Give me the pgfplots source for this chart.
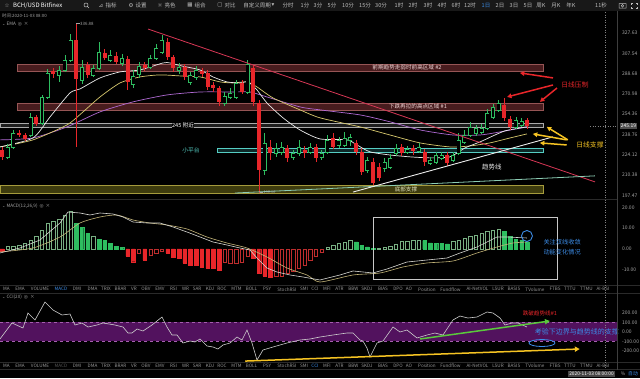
\documentclass[border=0pt]{standalone}
\usepackage{pgfplots}
\pgfplotsset{compat=1.18}
\usetikzlibrary{arrows.meta}
\usepackage{fontspec}
\setmainfont{Noto Sans CJK SC}
\newfontfamily\sym{DejaVu Sans}
\newcommand\fs[1]{\fontsize{#1pt}{#1pt}\selectfont}
\definecolor{upc}{RGB}{46,189,96}
\definecolor{dnc}{RGB}{232,38,42}
\definecolor{lab}{RGB}{165,165,165}
\definecolor{sepc}{RGB}{42,42,42}
\definecolor{tbc}{RGB}{24,24,24}
\definecolor{tbt}{RGB}{190,190,190}
\definecolor{zfill}{RGB}{72,28,30}
\definecolor{zedge}{RGB}{150,85,85}
\definecolor{ztext}{RGB}{240,215,215}
\definecolor{gfill}{RGB}{30,30,30}
\definecolor{gedge}{RGB}{170,170,170}
\definecolor{cyanc}{RGB}{85,205,195}
\definecolor{tfill}{RGB}{14,40,40}
\definecolor{ofill}{RGB}{62,60,14}
\definecolor{oedge}{RGB}{165,155,60}
\definecolor{otext}{RGB}{230,230,195}
\definecolor{redtl}{RGB}{215,55,85}
\definecolor{ltl}{RGB}{140,205,180}
\definecolor{emaw}{RGB}{235,235,235}
\definecolor{emay}{RGB}{215,200,110}
\definecolor{emap}{RGB}{175,105,210}
\definecolor{yarr}{RGB}{245,195,35}
\definecolor{bluec}{RGB}{60,140,230}
\definecolor{hgc}{RGB}{120,175,130}
\definecolor{hrc}{RGB}{190,45,45}
\definecolor{difc}{RGB}{215,215,210}
\definecolor{deac}{RGB}{195,180,120}
\definecolor{ccic}{RGB}{205,205,205}
\definecolor{ccib}{RGB}{82,18,94}
\definecolor{ccie}{RGB}{165,95,175}
\definecolor{garr}{RGB}{90,200,60}
\definecolor{boxc}{RGB}{200,200,200}
\definecolor{axlc}{RGB}{62,62,62}
\definecolor{crossc}{RGB}{130,130,130}
\definecolor{pricebg}{RGB}{78,78,78}
\definecolor{indc}{RGB}{150,150,150}
\definecolor{inddim}{RGB}{85,85,85}
\definecolor{datebg}{RGB}{70,70,70}

% up candle (hollow): index, open, high, low, close
\newcommand\U[5]{%
 \addplot[upc,line width=0.6pt] coordinates {(#1,#4) (#1,#3)};
 \addplot[upc,line width=4pt] coordinates {(#1,#2) (#1,#5)};
 \addplot[black,line width=2.8pt] coordinates {(#1,#2) (#1,#5)};
 \addplot[upc,only marks,mark=-,mark size=2pt,mark options={line width=0.6pt}] coordinates {(#1,#2) (#1,#5)};}
% down candle (filled)
\newcommand\D[5]{%
 \addplot[dnc,line width=0.6pt] coordinates {(#1,#4) (#1,#3)};
 \addplot[dnc,line width=4pt] coordinates {(#1,#2) (#1,#5)};}

\pgfplotsset{panel/.style={scale only axis, width=617pt, xmin=-0.35, xmax=107.71,
  anchor=north west, axis x line=none, axis y line*=right, y axis line style={draw=none},
  major tick length=0pt, yticklabel style={font=\fs{5}, text=lab, xshift=1.5pt},
  clip mode=individual}}

\def\indlist{6.5/MA,20/EMA,40/VOLUME,77/DMI,92.5/DMA,106/TRIX,120.5/BRAR,134/VR,146/OBV,160/EMV,173.5/RSI,185.5/WR,197/SAR,210/KDJ,222/ROC,236.5/MTM,251.5/BOLL,267/PSY,287/StochRSI,304/SMI,327/MFI,339.5/ATR,353.5/BBW,367/SKDJ,383/BIAS,398/DPO,409/AO,427/Position,450.5/Fundflow,477.5/AI-NetVOL,498/LSUR,514/BASIS,535/TVolume,555/FTBS,570/TTTU,586.5/TTMU,603/AI-BSI}

\begin{document}
\begin{tikzpicture}
\path[use as bounding box] (0pt,0pt) rectangle (640pt,-378pt);
\fill[black] (0pt,0pt) rectangle (640pt,-378pt);
\fill[tbc] (0pt,0pt) rectangle (640pt,-11pt);

%================ PRICE PANEL ================
\begin{axis}[panel, at={(0pt,-12pt)}, height=187pt,
  ymode=log, ymin=195.35, ymax=349.78,
  ytick={197.47,210.38,224.12,238.76,254.36,270.98,288.68,307.54,327.63},
  yticklabels={197.47,210.38,224.12,238.76,254.36,270.98,288.68,307.54,327.63}]
% zones
\filldraw[fill=zfill, draw=zedge, line width=0.6pt] (axis cs:2.63,291.1) rectangle (axis cs:94.75,297.4);
\filldraw[fill=zfill, draw=zedge, line width=0.6pt] (axis cs:2.63,257.8) rectangle (axis cs:94.75,263.4);
\filldraw[fill=gfill, draw=gedge, line width=0.5pt] (axis cs:-0.35,244.5) rectangle (axis cs:94.75,247.6);
\filldraw[fill=tfill, draw=cyanc, line width=0.6pt] (axis cs:37.65,226.2) rectangle (axis cs:94.75,229.0);
\filldraw[fill=ofill, draw=oedge, line width=0.6pt] (axis cs:-0.35,199.0) rectangle (axis cs:94.75,204.0);
% EMA lines
\addplot[emap, line width=0.7pt, smooth, tension=0.4] coordinates {(-0.35,234.8) (5.43,236.2) (11.38,244.5) (17.16,256.2) (22.94,264.3) (28.90,270.1) (34.68,272.6) (40.46,272.6) (43.43,272.6) (46.41,268.4) (52.19,260.2) (55.69,257.8) (62.70,253.8) (67.95,248.4) (73.20,242.2) (78.98,238.4) (83.71,238.4) (87.22,240.7) (91.94,244.5)};
\addplot[emay, line width=0.7pt, smooth, tension=0.4] coordinates {(-0.35,229.7) (5.43,234.8) (11.38,246.0) (14.19,256.2) (17.16,268.4) (20.67,280.4) (24.17,285.7) (27.67,287.5) (31.17,286.6) (34.68,285.7) (38.18,281.3) (40.46,280.4) (42.91,281.3) (44.66,276.9) (47.46,267.6) (52.19,257.8) (55.69,251.5) (62.70,244.5) (67.95,238.4) (73.20,232.6) (78.46,229.7) (81.96,230.4) (85.46,232.6) (88.97,236.2) (91.94,239.2)};
\addplot[emaw, line width=0.7pt, smooth, tension=0.4] coordinates {(-0.35,229.7) (5.43,236.2) (8.41,252.2) (11.91,271.8) (13.66,275.2) (17.16,284.8) (20.67,290.2) (24.17,292.0) (28.20,298.4) (29.42,298.4) (31.52,295.6) (34.68,292.0) (36.95,285.7) (39.40,281.3) (41.68,280.4) (43.08,281.3) (44.66,274.3) (46.41,263.4) (49.21,251.5) (52.19,242.2) (55.69,235.5) (60.42,234.8) (62.17,231.1) (64.45,226.2) (67.95,224.0) (71.45,222.7) (74.96,222.0) (78.46,222.7) (81.09,229.0) (83.71,233.3) (86.34,238.4) (88.09,241.5) (89.84,243.0) (91.94,244.5)};
% candles
\D{0}{227.6}{229.7}{220.6}{222.7}
\U{1}{222.7}{231.8}{221.3}{229.7}
\U{2}{229.7}{242.2}{228.3}{239.9}
\D{3}{239.9}{242.2}{237.0}{238.4}
\D{4}{238.4}{239.9}{234.0}{235.5}
\U{5}{238.4}{255.4}{237.0}{252.2}
\D{6}{252.2}{253.8}{245.3}{246.8}
\U{7}{247.6}{270.1}{246.0}{268.4}
\U{8}{268.4}{292.9}{266.8}{289.3}
\D{9}{291.1}{293.8}{284.8}{288.4}
\U{10}{287.5}{295.6}{281.3}{292.0}
\U{11}{292.0}{305.9}{290.2}{301.2}
\U{12}{301.2}{326.6}{299.3}{320.6}
\D{13}{320.6}{336.9}{229.7}{283.9}
\U{14}{283.0}{301.2}{279.5}{294.7}
\D{15}{296.5}{299.3}{284.8}{287.5}
\U{16}{287.5}{296.5}{285.7}{293.8}
\U{17}{293.8}{318.6}{292.0}{308.8}
\D{18}{307.8}{311.7}{301.2}{303.1}
\U{19}{301.2}{310.7}{299.3}{305.9}
\D{20}{305.0}{308.8}{297.5}{299.3}
\U{21}{298.4}{306.9}{295.6}{303.1}
\D{22}{302.1}{305.0}{274.3}{281.3}
\U{23}{279.5}{292.0}{276.0}{286.6}
\U{24}{288.4}{299.3}{284.8}{295.6}
\D{25}{296.5}{299.3}{291.1}{293.8}
\U{26}{294.7}{305.9}{292.9}{303.1}
\U{27}{303.1}{316.6}{301.2}{312.7}
\U{28}{308.8}{325.6}{306.9}{320.6}
\D{29}{318.6}{322.6}{301.2}{304.0}
\D{30}{304.0}{305.9}{290.2}{293.8}
\U{31}{292.0}{298.4}{288.4}{294.7}
\D{32}{294.7}{297.5}{283.0}{285.7}
\U{33}{281.3}{290.2}{278.6}{287.5}
\U{34}{285.7}{295.6}{283.0}{292.0}
\D{35}{291.1}{293.8}{285.7}{288.4}
\D{36}{289.3}{292.0}{274.3}{276.9}
\D{37}{278.6}{281.3}{272.6}{276.0}
\D{38}{276.0}{277.8}{261.0}{264.3}
\U{39}{263.4}{272.6}{261.0}{269.3}
\U{40}{268.4}{276.0}{266.8}{271.8}
\U{41}{268.4}{283.0}{266.8}{280.4}
\D{42}{280.4}{283.0}{270.9}{272.6}
\U{43}{272.6}{301.2}{270.9}{297.5}
\D{44}{293.8}{296.5}{261.0}{264.3}
\D{45}{263.4}{265.9}{199.0}{213.8}
\U{46}{213.8}{239.9}{210.5}{232.6}
\D{47}{229.7}{234.8}{220.6}{225.5}
\U{48}{225.5}{232.6}{222.7}{229.0}
\U{49}{226.2}{233.3}{224.0}{229.7}
\D{50}{229.0}{231.1}{219.2}{222.0}
\U{51}{222.7}{227.6}{220.6}{225.5}
\U{52}{225.5}{234.8}{223.3}{229.7}
\D{53}{227.6}{230.4}{222.0}{225.5}
\U{54}{226.2}{232.6}{224.7}{229.7}
\D{55}{229.7}{231.8}{219.2}{222.0}
\U{56}{222.7}{227.6}{220.6}{225.5}
\U{57}{226.2}{238.4}{224.7}{234.8}
\D{58}{236.2}{239.9}{228.3}{229.7}
\U{59}{231.1}{237.0}{229.0}{234.8}
\U{60}{231.1}{240.7}{229.7}{236.2}
\U{61}{234.8}{239.2}{230.4}{237.0}
\D{62}{232.6}{234.8}{224.0}{226.2}
\D{63}{226.2}{229.0}{210.5}{212.5}
\U{64}{213.8}{222.7}{211.8}{220.6}
\D{65}{219.2}{222.0}{204.0}{205.3}
\D{66}{215.8}{218.5}{206.6}{208.6}
\U{67}{215.2}{222.0}{212.5}{219.2}
\U{68}{215.8}{224.7}{214.5}{222.0}
\U{69}{225.5}{231.8}{223.3}{229.0}
\D{70}{229.7}{231.8}{223.3}{225.5}
\U{71}{226.2}{230.4}{224.7}{228.3}
\D{72}{229.0}{231.1}{224.0}{226.9}
\U{73}{226.9}{232.6}{225.5}{229.7}
\D{74}{226.2}{228.3}{216.5}{219.2}
\U{75}{218.5}{222.7}{217.2}{220.6}
\U{76}{219.2}{226.2}{217.9}{224.0}
\U{77}{222.0}{226.2}{220.6}{224.0}
\D{78}{224.0}{226.2}{216.5}{218.5}
\U{79}{220.6}{226.2}{219.2}{224.0}
\U{80}{225.5}{239.9}{224.0}{234.8}
\U{81}{233.3}{242.2}{231.8}{238.4}
\U{82}{238.4}{248.4}{237.0}{244.5}
\U{83}{239.9}{246.0}{237.7}{243.7}
\U{84}{240.7}{246.8}{239.2}{243.7}
\U{85}{243.7}{258.6}{242.2}{255.4}
\U{86}{252.2}{262.6}{250.7}{260.2}
\U{87}{257.8}{265.9}{256.2}{263.4}
\D{88}{261.8}{267.6}{249.1}{251.5}
\D{89}{250.7}{253.0}{242.2}{244.5}
\U{90}{244.5}{252.2}{243.0}{249.9}
\U{91}{246.0}{251.5}{244.5}{249.1}
\D{92}{249.9}{251.5}{243.0}{245.19}
% trend lines
\draw[redtl, line width=0.8pt] (axis cs:25.57,331.7) -- (axis cs:103.85,206.0);
\draw[ltl, line width=0.8pt] (axis cs:40.8,199.0) -- (axis cs:103.85,209.9);
\draw[emaw, line width=0.9pt] (axis cs:61.47,199.6) -- (axis cs:96.5,237.0);
% zone labels
\node[font=\fs{5.6}, text=ztext] at (axis cs:70.93,294.2) {前期趋势走弱时前高区域 \#2};
\node[font=\fs{5.6}, text=ztext] at (axis cs:72.85,260.6) {下跌再拉的高点区域 \#1};
\node[font=\fs{5.6}, text=white, fill=black, inner sep=0.6pt] at (axis cs:31.7,246.0) {245 附近};
\node[font=\fs{5.8}, text=cyanc] at (axis cs:33.1,227.6) {小平台};
\node[font=\fs{5.6}, text=otext] at (axis cs:70.75,201.5) {底部支撑};
\node[font=\fs{6.5}, text=emaw] at (axis cs:85.8,215.8) {趋势线};
% arrows
\draw[dnc, line width=1.5pt, -{Triangle[length=4.5pt,width=4.5pt]}] (axis cs:96.5,284.8) -- (axis cs:90.7,289.3);
\draw[dnc, line width=1.5pt, -{Triangle[length=4.5pt,width=4.5pt]}] (axis cs:96.5,278.6) -- (axis cs:88.44,268.4);
\draw[dnc, line width=1.5pt, -{Triangle[length=4.5pt,width=4.5pt]}] (axis cs:97.2,276.0) -- (axis cs:94.2,264.3);
\draw[yarr, line width=1.5pt, -{Triangle[length=4.5pt,width=4.5pt]}] (axis cs:99.1,234.8) -- (axis cs:95.4,244.5);
\draw[yarr, line width=1.5pt, -{Triangle[length=4.5pt,width=4.5pt]}] (axis cs:98.9,234.8) -- (axis cs:92.96,239.2);
\draw[yarr, line width=1.5pt, -{Triangle[length=4.5pt,width=4.5pt]}] (axis cs:98.9,231.1) -- (axis cs:94.2,232.6);
\node[font=\fs{6.8}, text=dnc] at (axis cs:100.35,278.6) {日线压制};
\node[font=\fs{6.8}, text=yarr] at (axis cs:102.98,231.1) {日线支撑};
\end{axis}

%================ MACD PANEL ================
\begin{axis}[panel, at={(0pt,-199pt)}, height=86pt, ymin=-17.27, ymax=23.98,
  ytick={-10,0,10,20}, yticklabels={-10.00,0.00,10.00,20.00}]
\addplot[ybar, bar width=3.6pt, bar shift=0pt, fill=upc, draw=upc] coordinates {(13,12.3) (14,10.4) (15,7.5) (17,4.6) (18,4.0) (19,2.7) (20,1.4) (21,0.8) (62,3.4) (63,1.9) (64,1.0) (65,0.3) (74,4.0) (75,2.9) (76,2.7) (77,2.7) (78,2.4) (88,8.3) (89,5.9) (90,4.6) (91,4.3) (92,3.5)};
\addplot[ybar, bar width=3.4pt, bar shift=0pt, fill=black, draw=hgc, line width=0.5pt] coordinates {(1,1.1) (2,1.4) (3,1.9) (4,2.7) (5,4.3) (6,5.9) (7,9.1) (8,12.3) (9,13.1) (10,14.2) (11,16.3) (12,17.9) (16,5.9) (57,1.0) (58,1.9) (59,2.7) (60,3.4) (61,4.3) (66,0.5) (67,0.8) (68,1.1) (69,2.4) (70,3.5) (71,3.5) (72,4.0) (73,4.3) (79,3.5) (80,4.3) (81,5.1) (82,5.9) (83,6.7) (84,7.5) (85,8.3) (86,9.1) (87,9.6)};
\addplot[ybar, bar width=3.6pt, bar shift=0pt, fill=dnc, draw=dnc] coordinates {(0,-1.0) (22,-3.4) (23,-6.1) (25,-5.3) (29,-1.8) (30,-3.8) (31,-4.3) (32,-6.7) (33,-7.7) (34,-7.7) (35,-8.6) (36,-9.1) (37,-9.1) (38,-10.1) (44,-4.5) (45,-11.5) (46,-13.0) (47,-13.4)};
\addplot[ybar, bar width=3.4pt, bar shift=0pt, fill=black, draw=hrc, line width=0.5pt] coordinates {(24,-2.1) (26,-2.9) (27,-2.1) (28,-1.3) (39,-6.2) (40,-6.7) (41,-6.7) (42,-6.2) (43,-3.7) (48,-13.0) (49,-12.9) (50,-11.5) (51,-10.9) (52,-9.3) (53,-7.7) (54,-5.3) (55,-3.7) (56,-1.5)};
\addplot[deac, line width=0.6pt, smooth, tension=0.4] coordinates {(-0.35,-1.44) (5.43,0.48) (10.16,5.76) (13.66,12.47) (17.16,15.35) (20.14,16.31) (22.94,13.91) (25.92,12.47) (28.90,11.51) (32.40,9.59) (35.90,5.76) (39.40,2.88) (42.91,0.48) (46.41,-3.84) (49.91,-9.11) (53.42,-12.47) (55.69,-15.83) (61.47,-12.47) (66.20,-11.51) (70.23,-8.63) (74.43,-6.71) (78.98,-5.76) (83.19,-1.92) (86.69,0.96) (89.49,2.88) (91.94,3.36)};
\addplot[difc, line width=0.6pt] coordinates {(-0.35,-1.92) (3.15,0.48) (6.65,4.32) (10.16,12.47) (11.56,17.75) (13.66,17.27) (15.41,16.31) (17.16,17.27) (19.44,16.79) (21.19,15.35) (22.94,12.95) (25.39,12.47) (27.67,12.47) (29.95,10.55) (32.40,8.15) (34.68,5.76) (36.95,3.36) (39.40,1.92) (41.68,0.48) (43.43,-0.48) (44.66,-4.32) (46.41,-9.11) (48.16,-11.03) (50.44,-12.47) (52.71,-13.43) (55.69,-14.87) (59.19,-12.47) (61.47,-10.55) (63.22,-11.03) (64.97,-11.51) (67.43,-9.59) (70.93,-6.24) (74.43,-5.28) (77.93,-4.32) (80.21,-1.92) (83.19,0.96) (86.69,5.76) (88.44,5.76) (91.94,5.28)};
\draw[boxc, line width=0.6pt] (axis cs:64.97,15.35) rectangle (axis cs:97.2,-14.39);
\draw[bluec, line width=0.9pt] (axis cs:91.94,6.24) circle[radius=5.5pt];
\node[font=\fs{6.2}, text=bluec] at (axis cs:98.1,3.36) {关注双线收敛};
\node[font=\fs{6.2}, text=bluec] at (axis cs:98.1,-1.44) {动能变化情况};
\end{axis}

%================ CCI PANEL ================
\begin{axis}[panel, at={(0pt,-293pt)}, height=69pt, ymin=-314.8, ymax=405.6,
  ytick={-200,-100,0,100,200}, yticklabels={-200.00,-100.00,0.00,100.00,200.00},
  axis x line*=bottom, x axis line style={draw=none},
  xtick={4,10,16,22,28,34,40,46,52,58,64,70,76,82,88,94},
  xticklabels={7月25,7月31,8月6,8月12,8月18,8月24,8月30,9月5,9月11,9月17,9月23,9月29,10月5,10月11,10月17,10月23},
  xticklabel style={font=\fs{4.8}, text=lab, anchor=center, yshift=-12pt}]
\fill[ccib] (axis cs:-0.35,-100) rectangle (axis cs:107.71,100);
\draw[ccie, dashed, line width=0.5pt] (axis cs:-0.35,100) -- (axis cs:107.71,100);
\draw[ccie, dashed, line width=0.5pt] (axis cs:-0.35,-100) -- (axis cs:107.71,-100);
\addplot[ccic, line width=0.6pt] coordinates {(-0.35,-74.6) (1.75,92.4) (3.68,40.2) (4.55,196.8) (5.78,123.7) (7.53,311.6) (8.93,228.1) (10.51,175.9) (11.91,186.4) (12.78,71.5) (14.01,92.4) (15.06,50.6) (16.64,71.5) (17.69,92.4) (19.79,71.5) (21.19,50.6) (22.07,-12.0) (22.77,-12.0) (23.64,29.8) (24.69,8.9) (26.27,71.5) (28.02,155.0) (28.90,50.6) (29.77,-32.9) (30.65,-32.9) (31.70,-116.4) (32.92,-95.5) (33.80,-105.9) (34.68,-74.6) (35.90,-147.7) (36.95,-158.1) (37.83,-179.0) (38.70,-137.3) (39.93,-116.4) (41.16,-53.8) (42.03,-85.1) (42.91,19.3) (43.78,-116.4) (44.66,-293.9) (45.71,-189.5) (47.46,-158.1) (49.91,-116.4) (52.19,-85.1) (53.94,-74.6) (55.69,-53.8) (57.97,-32.9) (60.42,-12.0) (61.47,-12.0) (62.70,-85.1) (63.22,-95.5) (63.92,-168.6) (64.45,-262.6) (65.67,-116.4) (66.73,-95.5) (68.48,50.6) (69.70,-1.6) (70.93,19.3) (72.68,-64.2) (74.43,-32.9) (75.83,-12.0) (77.23,-32.9) (78.98,123.7) (80.21,165.5) (81.61,144.6) (83.19,155.0) (84.94,207.2) (85.99,196.8) (87.22,144.6) (88.09,71.5) (89.32,92.4) (90.37,92.4) (91.94,50.6)};
\draw[garr, line width=1.5pt, -{Triangle[length=5pt,width=5pt]}] (axis cs:73.2,-74.6) -- (axis cs:95.97,113.3);
\draw[yarr, line width=1.5pt, -{Triangle[length=5pt,width=5pt]}] (axis cs:42.6,-305) -- (axis cs:101.2,-179);
\draw[bluec, line width=0.8pt] (axis cs:94.57,-116.4) ellipse[x radius=13pt, y radius=3.5pt];
\node[font=\fs{5.6}, text=dnc] at (axis cs:94.2,196.8) {跌破趋势线\#1};
\node[font=\fs{7}, text=bluec] at (axis cs:100.7,0) {考验下边界与趋势线的支撑};
\end{axis}

%================ FRAME, TOOLBAR, LABELS ================
\begin{scope}[x=1pt,y=-1pt]
\draw[sepc, line width=0.5pt] (0,199) -- (617,199);
\draw[sepc, line width=0.5pt] (0,285.5) -- (640,285.5);
\draw[sepc, line width=0.5pt] (0,293) -- (640,293);
\draw[sepc, line width=0.5pt] (0,362) -- (640,362);
\draw[sepc, line width=0.5pt] (0,369.5) -- (640,369.5);
\draw[axlc, line width=0.5pt] (617,11) -- (617,369.5);
% crosshair
\draw[crossc, dotted, line width=0.5pt] (605,12) -- (605,369);
\draw[crossc, dotted, line width=0.5pt] (590,126) -- (617,126);
\node[fill=pricebg, text=white, font=\fs{5}, inner sep=1pt] at (628.5,126) {245.19};
% toolbar
\begin{scope}[every node/.style={font=\fs{5.5}, text=tbt, inner sep=0pt}]
\node at (7,5.5) {\sym ☆};
\node[anchor=west, text=white, font=\fs{6}] at (13,5.5) {BCH/USD Bitfinex};
\draw[tbt, line width=0.5pt] (86,5) circle[radius=2] (87.5,6.5) -- (89,8);
\node at (101,5.5) {\sym ⊿};
\node at (111,5.5) {指标};
\node at (131,5.5) {\sym ⚙};
\node at (141,5.5) {设置};
\node at (160,5.5) {\sym ☼};
\node at (170,5.5) {亮色};
\node at (190,5.5) {\sym ▦};
\node at (200,5.5) {组合};
\node at (220,5.5) {\sym ▢};
\node at (230,5.5) {对比};
\node at (257,5.5) {自定义周期};
\node at (273,5.5) {\sym ▾};
\node at (288,5.5) {分时};
\node at (305,5.5) {1分};
\node at (318,5.5) {3分};
\node at (332,5.5) {5分};
\node at (348,5.5) {10分};
\node at (365,5.5) {15分};
\node at (381,5.5) {30分};
\node at (399,5.5) {1时};
\node at (413,5.5) {2时};
\node at (428,5.5) {3时};
\node at (442,5.5) {4时};
\node at (456,5.5) {6时};
\node at (470,5.5) {12时};
\node[text=bluec] at (486,5.5) {1日};
\node at (500,5.5) {2日};
\node at (514,5.5) {3日};
\node at (528,5.5) {5日};
\node at (541,5.5) {周K};
\node at (556,5.5) {月K};
\node at (571,5.5) {年K};
\node at (601,5.5) {11秒};
\draw[tbt, line width=0.5pt] (619,3.5) rectangle (626,8) (622.5,5.8) circle[radius=1.3];
\draw[tbt, line width=0.5pt] (631,4.5) -- (631,3) -- (632.5,3) (636,3) -- (637.5,3) -- (637.5,4.5) (637.5,7) -- (637.5,8.5) -- (636,8.5) (632.5,8.5) -- (631,8.5) -- (631,7);
\end{scope}
% info lines
\node[anchor=west, font=\fs{4.4}, text=lab, inner sep=0pt] at (2,16) {时间:2020-11-03 08:00};
\node[anchor=west, font=\fs{4.6}, text=lab, inner sep=0pt] at (2,24) {{\sym\fs{4}⌄}\ EMA \ {\sym ◎} \ ×};
\draw[lab, line width=0.4pt] (76,23.5) -- (79.5,23.5);
\node[anchor=west, font=\fs{4.4}, text=lab, inner sep=0.5pt] at (79.5,23.5) {336.88};
\draw[lab, line width=0.4pt] (260,192) -- (263,192);
\node[anchor=west, font=\fs{3.8}, text=lab, inner sep=0.5pt] at (263,192) {198.66};
\node[anchor=west, font=\fs{4.6}, text=lab, inner sep=0pt] at (2,206) {{\sym\fs{4}⌄}\ MACD(12,26,9) \ {\sym ◎} \ ×};
\node[anchor=west, font=\fs{4.6}, text=lab, inner sep=0pt] at (2,297) {{\sym\fs{4}⌄}\ CCI(20) \ {\sym ◎} \ ×};
% indicator bars
\foreach \x/\t in \indlist {
  \node[font=\fs{4.6}, text=indc, inner sep=0pt] at (\x,289.3) {\t};
  \node[font=\fs{4.6}, text=indc, inner sep=0pt] at (\x,366) {\t};
}
\node[font=\fs{4.6}, text=bluec, inner sep=0pt] at (61,289.3) {MACD};
\node[font=\fs{4.6}, text=indc, inner sep=0pt] at (315,289.3) {CCI};
\node[font=\fs{4.6}, text=inddim, inner sep=0pt] at (61,366) {MACD};
\node[font=\fs{4.6}, text=bluec, inner sep=0pt] at (315,366) {CCI};
% bottom right date box
\node[fill=datebg, text=white, font=\fs{4.8}, inner sep=1pt] at (591.5,374) {2020-11-03 08:00:00};
\node[font=\fs{4.8}, text=lab, inner sep=0pt] at (623,374) {\%};
\node[font=\fs{4.8}, text=bluec, inner sep=0pt] at (633,374) {自动};
\end{scope}
\end{tikzpicture}
\end{document}
